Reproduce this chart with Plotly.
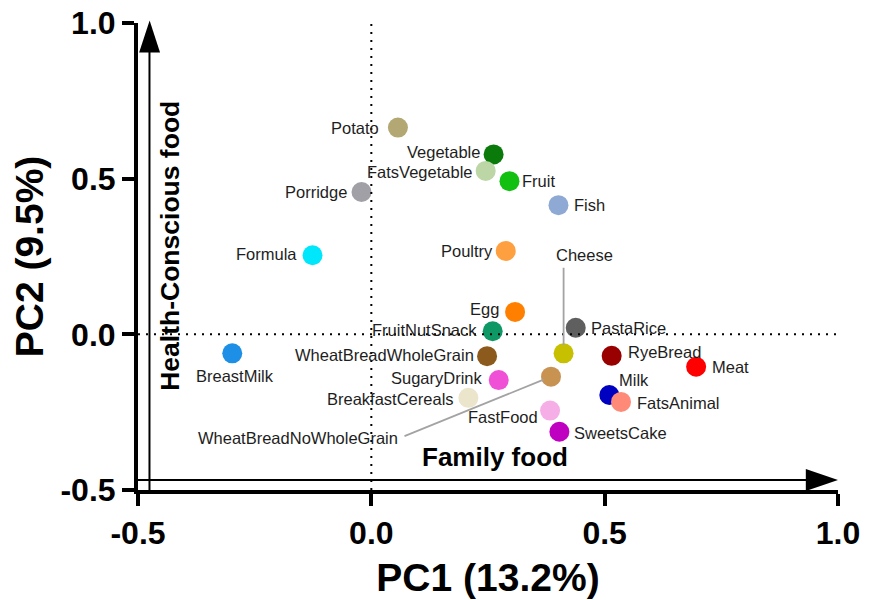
import plotly.graph_objects as go

# PCA loadings of food groups (PC1 vs PC2)
foods = ["Potato", "Vegetable", "FatsVegetable", "Fruit", "Porridge", "Fish",
         "Formula", "Poultry", "Egg", "FruitNutSnack", "PastaRice", "Cheese",
         "WheatBreadWholeGrain", "RyeBread", "Meat", "BreastMilk", "SugaryDrink",
         "WheatBreadNoWholeGrain", "Milk", "FatsAnimal", "BreakfastCereals",
         "FastFood", "SweetsCake"]
pc1 = [0.057, 0.262, 0.245, 0.296, -0.021, 0.401,
       -0.126, 0.288, 0.308, 0.260, 0.438, 0.412,
       0.248, 0.515, 0.696, -0.298, 0.273,
       0.385, 0.510, 0.535, 0.208,
       0.383, 0.403]
pc2 = [0.664, 0.578, 0.525, 0.492, 0.457, 0.415,
       0.254, 0.268, 0.072, 0.010, 0.021, -0.061,
       -0.070, -0.069, -0.104, -0.061, -0.147,
       -0.136, -0.195, -0.217, -0.204,
       -0.245, -0.313]
colors = ["#b3a773", "#0a7a0a", "#bcd6a6", "#12c012", "#a0a0a6", "#8eaad4",
          "#00e6fa", "#ffa040", "#ff8000", "#0e9866", "#5f5f5f", "#c6c000",
          "#8d5a1e", "#990000", "#ff0000", "#1e8fe6", "#f050d6",
          "#c89250", "#0000c0", "#ff8a78", "#ebe5cb",
          "#f6aee6", "#c000c0"]

x_ticks = [-0.5, 0.0, 0.5, 1.0]
y_ticks = [-0.5, 0.0, 0.5, 1.0]
tick_text = ["-0.5", "0.0", "0.5", "1.0"]

FONT = "Arial, Liberation Sans, sans-serif"

# label placement: (xanchor, xshift px, yshift px)
label_pos = {
    "Potato": ("right", -19, 0), "Vegetable": ("right", -14, 2),
    "FatsVegetable": ("right", -13, -1), "Fruit": ("left", 13, 0),
    "Porridge": ("right", -15, 0), "Fish": ("left", 16, 0),
    "Formula": ("right", -15.5, 1), "Poultry": ("right", -12.5, 0),
    "Egg": ("right", -16, 3), "FruitNutSnack": ("right", -15.5, 1),
    "PastaRice": ("left", 15, 0), "Cheese": ("center", 21, 98),
    "WheatBreadWholeGrain": ("right", -13, 1), "RyeBread": ("left", 16.5, 4),
    "Meat": ("left", 15.5, 0), "BreastMilk": ("center", 3, -23),
    "SugaryDrink": ("right", -15.5, 2), "WheatBreadNoWholeGrain": ("right", -153.5, -61.5),
    "Milk": ("left", 9.5, 15), "FatsAnimal": ("left", 16, -1.5),
    "BreakfastCereals": ("right", -14, -1), "FastFood": ("right", -12.5, -6.5),
    "SweetsCake": ("left", 15, -1.5),
}
# leader lines from label to point: (ax, ay) tail offsets in px
leaders = {"Cheese": (0, -87), "WheatBreadNoWholeGrain": (-148, 60)}

fig = go.Figure()
fig.add_trace(go.Scatter(
    x=pc1, y=pc2, mode="markers", text=foods, hoverinfo="text",
    marker=dict(size=20, color=colors, line=dict(width=0)),
    cliponaxis=False, showlegend=False,
))

annotations = []
for name, xv, yv in zip(foods, pc1, pc2):
    xa, xs, ys = label_pos[name]
    annotations.append(dict(
        x=xv, y=yv, xref="x", yref="y", text=name, showarrow=False,
        xanchor=xa, yanchor="middle", xshift=xs, yshift=ys,
        font=dict(family=FONT, size=16.5, color="#1e1e1e"),
        borderpad=0, borderwidth=0,
    ))
    if name in leaders:
        ax, ay = leaders[name]
        annotations.append(dict(
            x=xv, y=yv, xref="x", yref="y", text="", showarrow=True,
            ax=ax, ay=ay, arrowhead=0, arrowwidth=1.8, arrowcolor="#a3a3a3",
            standoff=8,
        ))

# axis direction captions
annotations.append(dict(
    x=0.0464, y=0.524, xref="paper", yref="paper", text="<b>Health-Conscious food</b>",
    textangle=-90, showarrow=False, xanchor="center", yanchor="middle",
    font=dict(family=FONT, size=26.5, color="black"),
))
annotations.append(dict(
    x=0.510, y=0.0706, xref="paper", yref="paper", text="<b>Family food</b>",
    showarrow=False, xanchor="center", yanchor="middle",
    font=dict(family=FONT, size=26, color="black"),
))

shapes = [
    # zero reference lines
    dict(type="line", xref="x", yref="paper", x0=0, x1=0, y0=0, y1=1,
         line=dict(color="black", width=2, dash="2px,6px")),
    dict(type="line", xref="paper", yref="y", x0=0, x1=1, y0=0, y1=0,
         line=dict(color="black", width=2, dash="2px,6px")),
    # vertical arrow
    dict(type="line", xref="paper", yref="paper", x0=0.0164, x1=0.0164, y0=0, y1=0.94,
         line=dict(color="black", width=2)),
    dict(type="path", xref="paper", yref="paper",
         path="M 0.0016 0.9366 L 0.0315 0.9366 L 0.0166 1.0053 Z",
         fillcolor="black", line=dict(color="black", width=0)),
    # horizontal arrow
    dict(type="line", xref="paper", yref="paper", x0=0, x1=0.96, y0=0.0214, y1=0.0214,
         line=dict(color="black", width=2)),
    dict(type="path", xref="paper", yref="paper",
         path="M 0.954 -0.002 L 0.954 0.0449 L 1.0 0.0214 Z",
         fillcolor="black", line=dict(color="black", width=0)),
]

axis_common = dict(
    showgrid=False, zeroline=False, showline=True, linecolor="black", linewidth=4,
    ticks="outside", ticklen=12, tickwidth=4, tickcolor="black", automargin=False,
    tickfont=dict(family=FONT, size=32, color="black", weight="bold"),
)

fig.update_layout(
    width=876, height=600,
    margin=dict(l=137.5, r=38, t=22.5, b=110, pad=0, autoexpand=False),
    paper_bgcolor="white", plot_bgcolor="white",
    xaxis=dict(range=[-0.5, 1.0], tickvals=x_ticks, ticktext=tick_text,
               title=dict(text="PC1 (13.2%)", standoff=14,
                          font=dict(family=FONT, size=39, color="black", weight="bold")),
               **axis_common),
    yaxis=dict(range=[-0.5, 1.0], tickvals=y_ticks, ticktext=tick_text,
               title=dict(text="PC2 (9.5%)", standoff=6,
                          font=dict(family=FONT, size=39, color="black", weight="bold")),
               **axis_common),
    annotations=annotations, shapes=shapes,
)

fig.write_html("out.html")
